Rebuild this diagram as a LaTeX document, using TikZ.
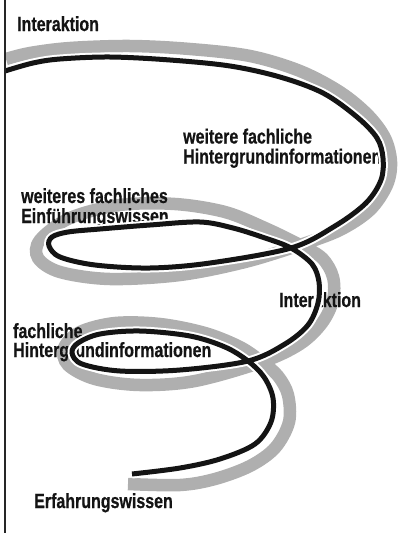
\documentclass[tikz,border=0pt]{standalone}
\usepackage{fontspec}
\newfontfamily\condfont[FakeStretch=0.78,FakeBold=0.6]{Liberation Sans}
\begin{document}
\begin{tikzpicture}[x=1pt,y=-1pt,
  band/.style={draw={rgb,255:red,175;green,175;blue,175}, line width=12.5pt},
  wire/.style={draw=black!92, line width=5pt, preaction={draw=white, line width=9pt}},
  lbl/.style={anchor=base west, inner sep=0pt, font=\condfont\bfseries\fontsize{20.5}{21}\selectfont, text=black!92}]
\useasboundingbox (0,0) rectangle (398,533);
% gray band
\draw[band] plot[smooth, tension=0.55] coordinates {
(128,484) (180,485) (215,479) (250,466) (275,448) (289,422) (288,395) (278,376)
(262,362) (240,347) (205,333) (160,324) (115,323) (80,332) (64,348) (68,365)
(95,379) (140,385) (195,381) (262,362) (300,344) (322,323) (333,300) (333,277)
(322,258) (300,245) (265,228) (225,212) (175,204) (120,205) (70,218) (40,240)
(38,258) (60,272) (110,279) (180,275) (245,262) (300,245) (340,230) (370,210)
(387,185) (391,162) (385,138) (368,115) (340,92) (300,71) (250,56) (190,49)
(130,46) (70,48) (30,53) (6,59)};
% labels
\node[lbl] (t1) at (17,31) {Interaktion};
\node[lbl] (t2a) at (183,143.5) {weitere fachliche};
\node[lbl] (t2b) at (183,163.5) {Hintergrundinformationen};
\node[lbl] (t3a) at (21,203) {weiteres fachliches};
\node[lbl] (t3b) at (21,223) {Einführungswissen};
\node[lbl] (t4) at (279,307) {Interaktion};
\node[lbl] (t5a) at (13,338) {fachliche};
\node[lbl] (t5b) at (13,357) {Hintergrundinformationen};
\node[lbl] (t6) at (34,508) {Erfahrungswissen};
% black wire
\draw[wire] plot[smooth, tension=0.55] coordinates {
(132,474) (180,468) (220,459) (255,444) (271,422) (273,398) (264,377)
(248,361) (225,347) (190,336) (140,331) (100,334) (78,343) (72,353) (82,364)
(120,371) (180,370) (248,361) (285,344) (308,325) (318,303) (319,282) (312,264)
(291,248) (265,238) (233,228) (200,222) (150,225) (100,229) (68,232) (52,237)
(49,246) (60,257) (95,265) (150,268) (210,263) (291,248) (335,226) (366,203) (381,180)
(383,158) (377,138) (357,117) (323,93) (280,77) (230,66) (170,60) (110,57)
(60,59) (33,63) (5,71)};
% left border
\draw[line width=1.3pt, black!85] (5,0) -- (5,533);
\end{tikzpicture}
\end{document}
